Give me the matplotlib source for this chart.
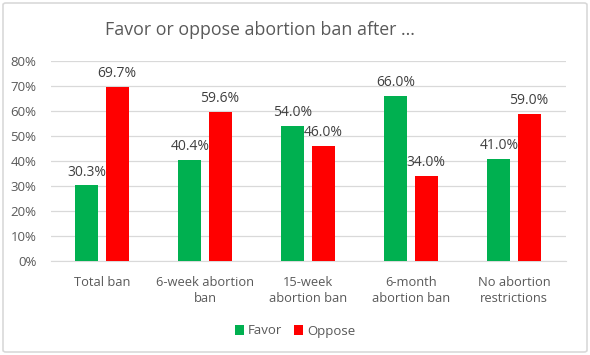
import matplotlib.pyplot as plt
import numpy as np
from matplotlib.patches import FancyBboxPatch

categories = ["Total ban", "6-week abortion\nban", "15-week\nabortion ban", "6-month\nabortion ban", "No abortion\nrestrictions"]
favor = [30.3, 40.4, 54.0, 66.0, 41.0]
oppose = [69.7, 59.6, 46.0, 34.0, 59.0]
yticks = [0, 10, 20, 30, 40, 50, 60, 70, 80]

plt.rcParams['font.family'] = ['Open Sans', 'DejaVu Sans']
W, H = 590, 355
fig = plt.figure(figsize=(W/100, H/100), dpi=100)
fig.patch.set_facecolor('white')
border = FancyBboxPatch((3/W, 3/H), 584/W, 349/H, boxstyle="round,pad=0,rounding_size=0.005",
                        transform=fig.transFigure, facecolor='none', edgecolor='#d9d9d9',
                        linewidth=1.2, zorder=-1)
fig.patches.append(border)

ax = fig.add_axes([50.5/W, 1-261/H, 515/W, 200/H])
x = np.arange(len(categories))
bw = 0.223
b1 = ax.bar(x - 0.146, favor, bw, color='#00b050', label='Favor', zorder=3)
b2 = ax.bar(x + 0.146, oppose, bw, color='#ff0000', label='Oppose', zorder=3)
for bars, vals in ((b1, favor), (b2, oppose)):
    for r, v in zip(bars, vals):
        ax.text(r.get_x() + r.get_width()/2, v + 2.2, f"{v:.1f}%", ha='center', va='bottom',
                fontsize=10, color='#404040', zorder=4)

ax.set_xlim(-0.5, len(categories) - 0.5)
ax.set_ylim(0, 80)
ax.set_yticks(yticks)
ax.set_yticklabels([f"{t}%" for t in yticks], fontsize=9.5, color='#595959')
ax.set_xticks(x)
ax.set_xticklabels(categories, fontsize=9.3, color='#595959', linespacing=1.3)
ax.tick_params(axis='x', length=0, pad=11)
ax.tick_params(axis='y', length=0, pad=10)
ax.grid(axis='y', color='#d9d9d9', linewidth=0.9, zorder=0)
for s in ['top', 'right', 'left']:
    ax.spines[s].set_visible(False)
ax.spines['bottom'].set_color('#d9d9d9')
ax.set_facecolor('none')

fig.text(0.44, 1-30/H, "Favor or oppose abortion ban after ...", ha='center', va='center',
         fontsize=12.8, color='#595959')
fig.legend(handles=[b1, b2], loc='center', bbox_to_anchor=(0.5, 1-331/H), ncol=2, frameon=False,
           fontsize=9.5, labelcolor='#595959', handlelength=0.7, handleheight=0.7,
           handletextpad=0.3, columnspacing=0.9)

fig.savefig('out.png', dpi=100, facecolor='white')
